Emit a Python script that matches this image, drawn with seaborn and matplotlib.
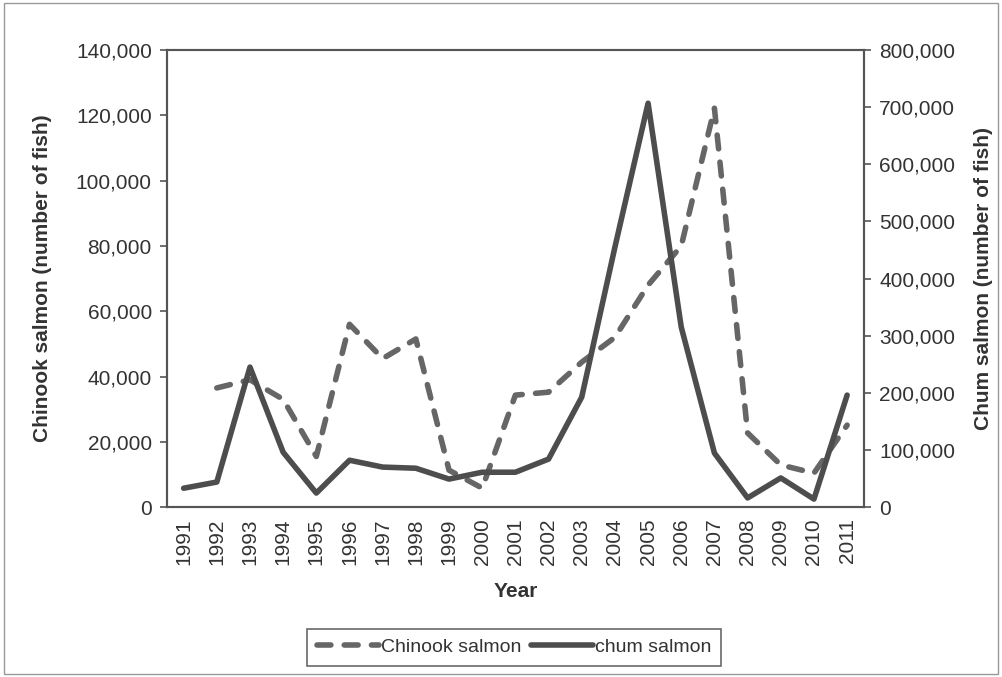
import numpy as np
import pandas as pd
import matplotlib
matplotlib.use("Agg")
import matplotlib.pyplot as plt
from matplotlib.ticker import FuncFormatter, FixedLocator
from matplotlib.patches import Rectangle
import seaborn as sns

# values
years = list(range(1991, 2012))
chinook = [np.nan, 36500, 39000, 33000, 15500, 56000, 45500, 51500, 11300, 5800,
           34300, 35200, 44400, 52000, 68000, 80000, 122200, 22700, 12900, 10400, 25100]
chum = [33000, 43800, 245000, 96000, 24500, 82000, 70000, 68000, 49000, 61000,
        61000, 84000, 192500, 455000, 707000, 315000, 94500, 16000, 51000, 14000, 196000]
left_ticks = [0, 20000, 40000, 60000, 80000, 100000, 120000, 140000]
right_ticks = [0, 100000, 200000, 300000, 400000, 500000, 600000, 700000, 800000]

df = pd.DataFrame({"year": years, "chinook": chinook, "chum": chum})

sns.set_style("white")
plt.rcParams["font.family"] = ["Liberation Sans", "DejaVu Sans"]
TXT = "#333333"
LINE = "#4d4d4d"
DASH = "#666666"

fig = plt.figure(figsize=(10.02, 6.77), dpi=100)
ax = fig.add_axes([0.1667, 0.251, 0.6953, 0.675])
ax2 = ax.twinx()

sns.lineplot(data=df.dropna(subset=["chinook"]), x="year", y="chinook", ax=ax,
             color=DASH, linewidth=4.0, label="Chinook salmon", legend=False)
ax.lines[0].set_linestyle((0, (2.5, 2.4)))
ax.lines[0].set_dash_capstyle("round")

sns.lineplot(data=df, x="year", y="chum", ax=ax2, color=LINE, linewidth=4.0,
             label="chum salmon", legend=False)
ax2.lines[0].set_solid_capstyle("round")

comma = FuncFormatter(lambda v, p: f"{int(v):,}")
ax.set_ylim(0, 140000)
ax.yaxis.set_major_locator(FixedLocator(left_ticks))
ax.yaxis.set_major_formatter(comma)
ax2.set_ylim(0, 800000)
ax2.yaxis.set_major_locator(FixedLocator(right_ticks))
ax2.yaxis.set_major_formatter(comma)

ax.set_xlim(1990.5, 2011.5)
ax.set_xticks(years)
ax.set_xticklabels([str(y) for y in years], rotation=90)
ax.set_xticks(np.arange(1990.5, 2012, 1), minor=True)
ax.tick_params(axis="x", which="major", length=0, pad=8, labelsize=15, labelcolor=TXT)
ax.tick_params(axis="x", which="minor", length=6, width=1.2, color="#555555", direction="out")
ax.tick_params(axis="y", length=5, width=1.2, color="#555555", direction="out",
               labelsize=15, labelcolor=TXT, pad=6)
ax2.tick_params(axis="y", length=5, width=1.2, color="#555555", direction="out",
                labelsize=15, labelcolor=TXT, pad=6)

for a in (ax, ax2):
    for s in a.spines.values():
        s.set_visible(True)
        s.set_color("#555555")
        s.set_linewidth(1.5)
ax.spines["top"].set_color("#888888")

ax.set_xlabel("Year", fontsize=15, fontweight="bold", color=TXT, labelpad=12)
ax.set_ylabel("Chinook salmon (number of fish)", fontsize=15, fontweight="bold", color=TXT)
ax2.set_ylabel("Chum salmon (number of fish)", fontsize=15, fontweight="bold", color=TXT)
ax.yaxis.set_label_coords(-0.165, 0.5)
ax2.yaxis.set_label_coords(1.158, 0.5)

handles = ax.get_lines()[:1] + ax2.get_lines()[:1]
leg = fig.legend(handles, ["Chinook salmon", "chum salmon"], loc="center",
                 bbox_to_anchor=(0.513, 0.0436), ncol=2, frameon=True, fancybox=False,
                 fontsize=14, handlelength=3.2, handletextpad=0.1, columnspacing=0.5,
                 borderpad=0.5, labelcolor=TXT)
leg.get_frame().set_edgecolor("#444444")
leg.get_frame().set_linewidth(1.2)

fig.patches.append(Rectangle((0.004, 0.004), 0.992, 0.992, transform=fig.transFigure,
                             fill=False, edgecolor="#999999", linewidth=1.0))

fig.savefig("out.png", dpi=100)
